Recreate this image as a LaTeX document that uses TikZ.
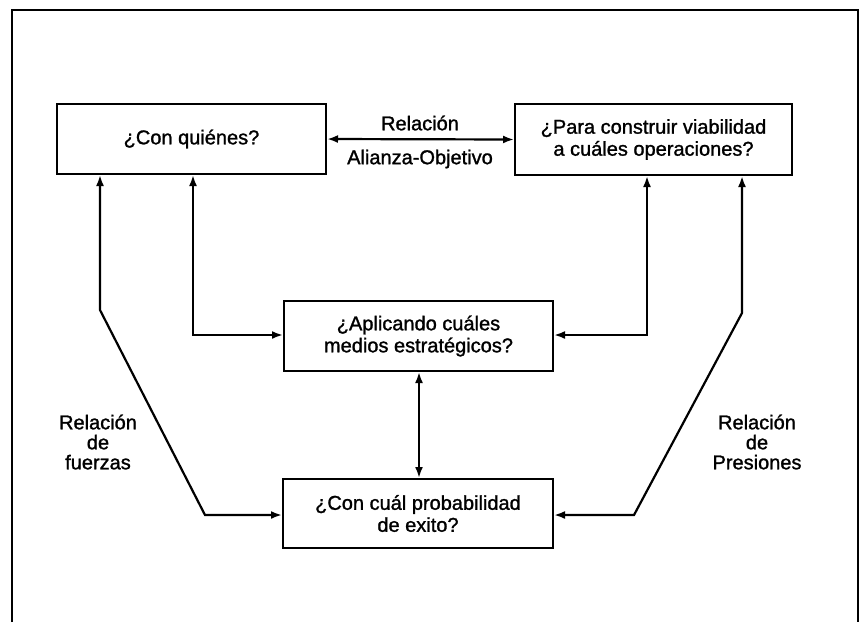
\documentclass[tikz,border=0pt]{standalone}
\usepackage{fontspec}
\setmainfont{Liberation Sans}[BoldFont=Liberation Sans,BoldFeatures={FakeBold=1.3}]
\usetikzlibrary{arrows.meta}
\begin{document}
\begin{tikzpicture}[x=1pt,y=-1pt,
  box/.style={draw,line width=2pt,inner sep=0pt,align=center,font={\fontsize{20}{22}\selectfont\bfseries}},
  lab/.style={inner sep=0pt,align=center,font={\fontsize{20}{20}\selectfont\bfseries}},
  link/.style={line width=2.2pt,{Latex[length=11pt,width=8pt]}-{Latex[length=11pt,width=8pt]}}]
\useasboundingbox (0,0) rectangle (866,622);
\draw[line width=2.2pt] (12,622) -- (12,10) -- (858,10) -- (858,622);
\node[box,minimum width=269pt,minimum height=70pt] (b1) at (191.5,139) {¿Con quiénes?};
\node[box,minimum width=277pt,minimum height=71pt] (b2) at (653.5,139.5) {¿Para construir viabilidad\\a cuáles operaciones?};
\node[box,minimum width=269pt,minimum height=70pt] (b3) at (418.5,336) {¿Aplicando cuáles\\medios estratégicos?};
\node[box,minimum width=270pt,minimum height=69pt] (b4) at (418,513.5) {¿Con cuál probabilidad\\de exito?};
\node[lab] (t1) at (420,123) {Relación};
\node[lab] (t2) at (420,159) {Alianza-Objetivo};
\node[lab] (t3) at (98,442) {Relación\\de\\fuerzas};
\node[lab] (t4) at (757,442) {Relación\\de\\Presiones};
\coordinate (la) at (193,335);
\coordinate (lb1) at (100,310);
\coordinate (lb2) at (205,515);
\coordinate (ra) at (647,335);
\coordinate (rb1) at (742,313);
\coordinate (rb2) at (634,515);
\draw[link] (b1.east) -- (b2.west);
\draw[link] (b1.south -| la) -- (la) -- (la -| b3.west);
\draw[link] (b1.south -| lb1) -- (lb1) -- (lb2) -- (lb2 -| b4.west);
\draw[link] (b2.south -| ra) -- (ra) -- (ra -| b3.east);
\draw[link] (b2.south -| rb1) -- (rb1) -- (rb2) -- (rb2 -| b4.east);
\draw[link] (b3.south -| 419,0) -- (b4.north -| 419,0);
\end{tikzpicture}
\end{document}
